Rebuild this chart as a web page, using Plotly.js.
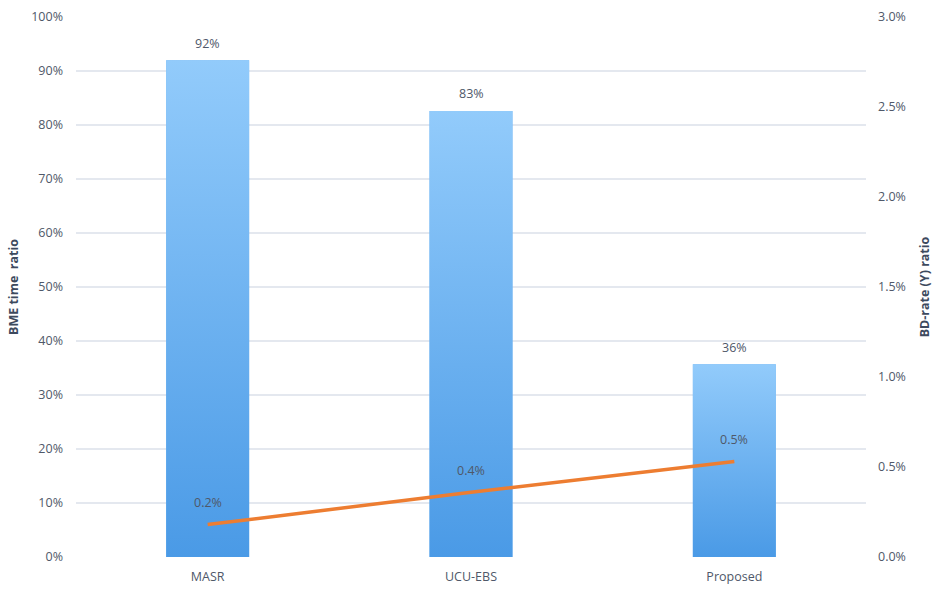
<!DOCTYPE html>
<html>
<head>
<meta charset="utf-8">
<script src="https://cdn.plot.ly/plotly-3.0.1.min.js"></script>
<style>html,body{margin:0;padding:0;background:#fff;}#chart{width:933px;height:590px;}</style>
</head>
<body>
<div id="chart"></div>
<script>
const categories = ["MASR", "UCU-EBS", "Proposed"];
const bmeTimeRatio = [0.92, 0.826, 0.357];
const bdRate = [0.0018, 0.0036, 0.0053];
const bmeLabels = ["92%", "83%", "36%"];
const bdLabels = ["0.2%", "0.4%", "0.5%"];
const leftTicks = [0,0.1,0.2,0.3,0.4,0.5,0.6,0.7,0.8,0.9,1.0];
const rightTicks = [0,0.005,0.01,0.015,0.02,0.025,0.03];

const idx = categories.map((c, i) => i);
const barW = 0.315;
const font = "Open Sans, Noto Sans, sans-serif";
const tickColor = "#4f5869";

const traces = [];
traces.push({
  type: "bar", x: idx, y: bmeTimeRatio, width: barW,
  marker: {color: "#6fb3f2", line: {width: 0}},
  hoverinfo: "skip", showlegend: false
});
bmeTimeRatio.forEach((v, i) => {
  traces.push({
    type: "scatter", mode: "none", fill: "toself",
    x: [i - barW/2, i - barW/2, i + barW/2, i + barW/2, i - barW/2],
    y: [0, v, v, 0, 0],
    fillgradient: {type: "vertical", colorscale: [[0, "#4a9ae6"], [1, "#92cbfb"]]},
    hoverinfo: "skip", showlegend: false
  });
});
traces.push({
  type: "scatter", mode: "lines", x: idx, y: bdRate, yaxis: "y2",
  line: {color: "#ed7d31", width: 3.5}, showlegend: false, hoverinfo: "skip"
});

const annotations = [];
idx.forEach(i => {
  annotations.push({x: i, y: bmeTimeRatio[i], xref: "x", yref: "y", text: bmeLabels[i],
    showarrow: false, yshift: 17, font: {family: font, size: 12.5, color: tickColor}});
  annotations.push({x: i, y: bdRate[i], xref: "x", yref: "y2", text: bdLabels[i],
    showarrow: false, yshift: 22, font: {family: font, size: 12.5, color: tickColor}});
});

const layout = {
  width: 933, height: 590,
  margin: {l: 76, r: 67, t: 17, b: 33},
  paper_bgcolor: "#fff", plot_bgcolor: "#fff",
  font: {family: font, size: 12.5, color: tickColor},
  xaxis: {range: [-0.5, 2.5], tickvals: idx, ticktext: categories, showgrid: false,
    zeroline: false, showline: false, ticks: "", fixedrange: true, ticklabelstandoff: 10,
    tickfont: {size: 12.5, color: tickColor}},
  yaxis: {range: [0, 1.0], tickvals: leftTicks, tickformat: ".0%", showgrid: true,
    gridcolor: "#e4e8ef", gridwidth: 1.5, zeroline: false, showline: false, ticks: "",
    ticklabelstandoff: 12,
    title: {text: "<b>BME time  ratio</b>", standoff: 9, font: {size: 12.5, color: "#3d4a5e"}}},
  yaxis2: {range: [0, 0.03], tickvals: rightTicks, tickformat: ".1%", overlaying: "y", side: "right",
    showgrid: false, zeroline: false, showline: false, ticks: "", ticklabelstandoff: 11,
    title: {text: "<b>BD-rate (Y) ratio</b>", standoff: 15, font: {size: 12.5, color: "#3d4a5e"}}},
  annotations: annotations,
  showlegend: false
};

Plotly.newPlot("chart", traces, layout, {displayModeBar: false, staticPlot: true});
</script>
</body>
</html>
